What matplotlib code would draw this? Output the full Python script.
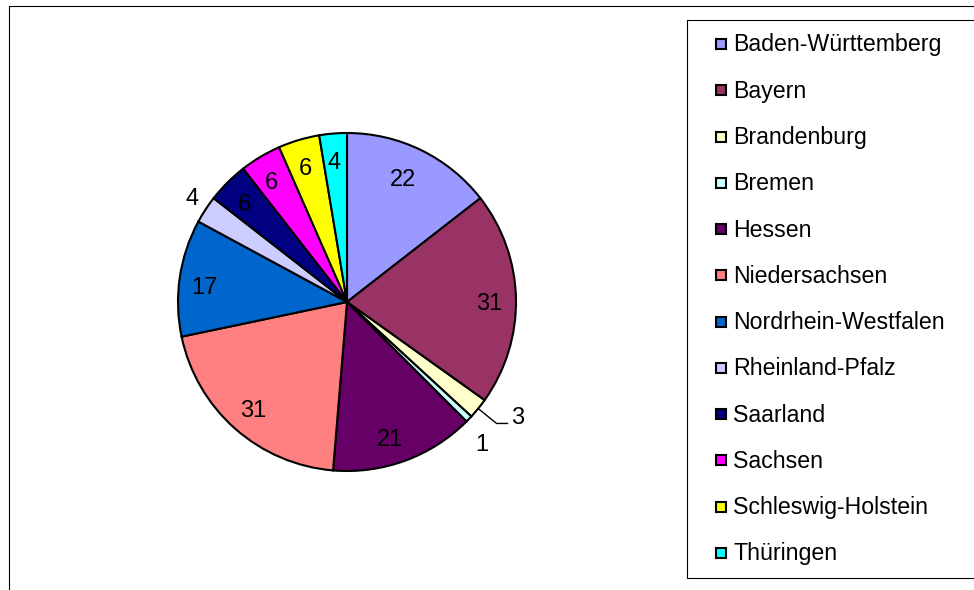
import matplotlib
matplotlib.use('Agg')
import matplotlib.pyplot as plt
import numpy as np
from matplotlib.patches import Rectangle

plt.rcParams['font.family'] = ['Liberation Sans', 'DejaVu Sans']

# Anzahl je Bundesland
states = ['Baden-Württemberg', 'Bayern', 'Brandenburg', 'Bremen', 'Hessen',
          'Niedersachsen', 'Nordrhein-Westfalen', 'Rheinland-Pfalz', 'Saarland',
          'Sachsen', 'Schleswig-Holstein', 'Thüringen']
counts = [22, 31, 3, 1, 21, 31, 17, 4, 6, 6, 6, 4]
colors = ['#9999FF', '#993366', '#FFFFCC', '#CCFFFF', '#660066', '#FF8080',
          '#0066CC', '#CCCCFF', '#000080', '#FF00FF', '#FFFF00', '#00FFFF']

# label placement: radius (in pie radii) and small angle shift in degrees
label_r = [0.81, 0.84, None, 1.15, 0.84, 0.84, 0.85, 1.11, 0.85, 0.85, 0.84, 0.84]
label_shift = [2, -1, 0, -2.4, -2.5, 0, 1.8, -1.2, 0.8, 1, 0.5, 0.5]

W, H = 974, 590
fig = plt.figure(figsize=(W / 100, H / 100), dpi=100)

# overlay in pixel coordinates for frames and legend
ov = fig.add_axes([0, 0, 1, 1])
ov.set_xlim(0, W)
ov.set_ylim(H, 0)
ov.axis('off')
ov.patch.set_alpha(0)

# chart area frame
ov.add_patch(Rectangle((8.5, 5.5), 1200, 1200, fill=False, ec='black', lw=0.8))

# pie
cx, cy, r = 347, 302, 169
m = 1.35
ax = fig.add_axes([(cx - r * m) / W, 1 - (cy + r * m) / H, 2 * r * m / W, 2 * r * m / H])
wedges, _ = ax.pie(counts, colors=colors, startangle=90, counterclock=False,
                   wedgeprops=dict(edgecolor='black', linewidth=1.5))
ax.set_xlim(-m, m)
ax.set_ylim(-m, m)
ax.axis('off')

for i, (w, n) in enumerate(zip(wedges, counts)):
    mid = np.deg2rad((w.theta1 + w.theta2) / 2)
    if label_r[i] is None:
        # small slice: label with leader line
        kx, ky = 1.14 * np.cos(mid), 1.14 * np.sin(mid)
        ax.plot([np.cos(mid), kx, kx + 0.065], [np.sin(mid), ky, ky],
                color='black', lw=1.0)
        ax.text(kx + 0.085, ky - 0.005, str(n), ha='left', va='baseline', fontsize=17)
        continue
    a = mid + np.deg2rad(label_shift[i])
    ax.text(label_r[i] * np.cos(a), label_r[i] * np.sin(a) - 0.016, str(n),
            ha='center', va='center', fontsize=17, color='black')

# legend box
ov.add_patch(Rectangle((686.5, 19.5), 400, 558.5, fill=False, ec='black', lw=0.8))
y0, step = 44, 46.27
for i, (name, c) in enumerate(zip(states, colors)):
    yc = y0 + i * step
    ov.add_patch(Rectangle((715.5, yc - 5), 10, 10, fc=c, ec='black', lw=1.5))
    ov.text(733, yc + 1, name, ha='left', va='center', fontsize=16.7)

fig.savefig('out.png', dpi=100)
